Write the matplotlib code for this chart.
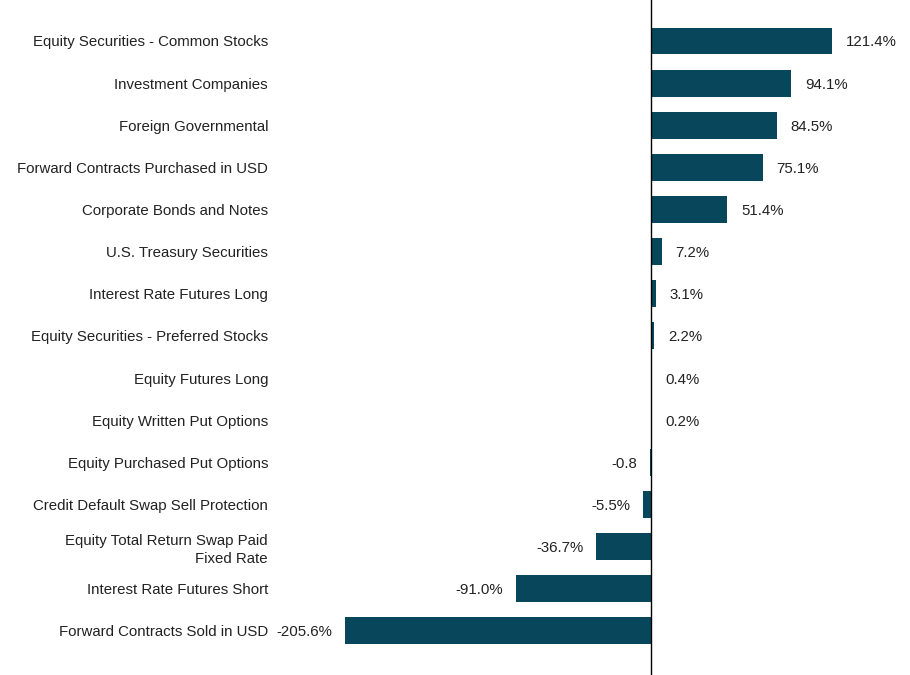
import matplotlib
matplotlib.use("Agg")
import matplotlib.pyplot as plt

categories = [
    "Equity Securities - Common Stocks",
    "Investment Companies",
    "Foreign Governmental",
    "Forward Contracts Purchased in USD",
    "Corporate Bonds and Notes",
    "U.S. Treasury Securities",
    "Interest Rate Futures Long",
    "Equity Securities - Preferred Stocks",
    "Equity Futures Long",
    "Equity Written Put Options",
    "Equity Purchased Put Options",
    "Credit Default Swap Sell Protection",
    "Equity Total Return Swap Paid\nFixed Rate",
    "Interest Rate Futures Short",
    "Forward Contracts Sold in USD",
]
values = [121.4, 94.1, 84.5, 75.1, 51.4, 7.2, 3.1, 2.2, 0.4, 0.2,
          -0.8, -5.5, -36.7, -91.0, -205.6]
labels = ["121.4%", "94.1%", "84.5%", "75.1%", "51.4%", "7.2%", "3.1%", "2.2%",
          "0.4%", "0.2%", "-0.8", "-5.5%", "-36.7%", "-91.0%", "-205.6%"]

plt.rcParams['font.family'] = ['Liberation Sans', 'DejaVu Sans']
fs = 10.8

fig = plt.figure(figsize=(9.1, 6.75), dpi=100)
ax = fig.add_axes([275 / 910, 0, 635 / 910, 1])

bar_color = "#08475b"
ypos = list(range(len(categories)))
ax.barh(ypos, values, height=0.64, color=bar_color)

ax.set_xlim((275 - 651) / 1.488, (910 - 651) / 1.488)
ax.set_ylim((675 - 41) / 42.14, -41 / 42.14)

for y, v, lab in zip(ypos, values, labels):
    if v >= 0:
        ax.annotate(lab, (v, y), xytext=(10, -1), textcoords="offset points",
                    ha="left", va="center", fontsize=fs, color="#222222")
    else:
        ax.annotate(lab, (v, y), xytext=(-9, -1), textcoords="offset points",
                    ha="right", va="center", fontsize=fs, color="#222222")

ax.axvline(0, color="black", linewidth=1)
ax.set_yticks(ypos)
ax.set_yticklabels(categories, color="#222222", fontsize=fs)
for t in ax.get_yticklabels():
    t.set_multialignment("right")
    t.set_linespacing(1.35)
ax.tick_params(axis="y", length=0, pad=5)
ax.set_xticks([])
for s in ax.spines.values():
    s.set_visible(False)

fig.savefig("out.png", dpi=100)
